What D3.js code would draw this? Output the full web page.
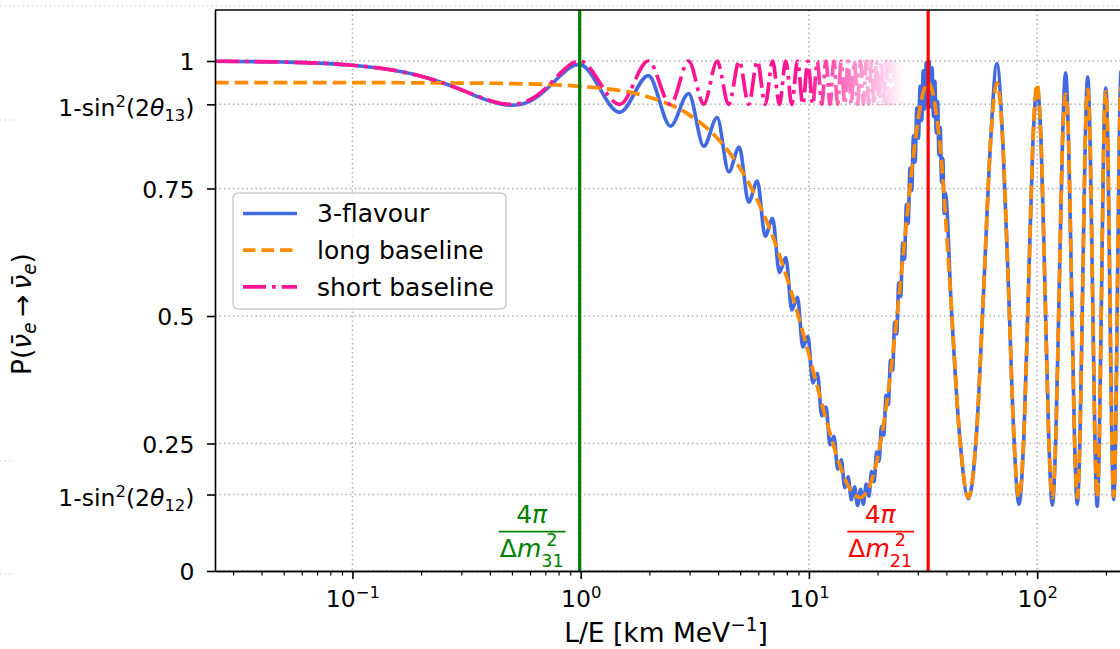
<!DOCTYPE html>
<html>
<head>
<meta charset="utf-8">
<script src="https://cdn.jsdelivr.net/npm/d3@7"></script>
<style>
  body { margin: 0; background: #fff; }
  svg text { font-family: "DejaVu Sans", sans-serif; }
</style>
</head>
<body>
<svg id="chart" width="1120" height="649"></svg>
<script>
// ---- data (L/E in km/MeV, survival probability) ----

// short baseline (pink dash-dot)
const sbX = [0.025, 0.05, 0.1, 0.15, 0.2, 0.25, 0.3, 0.35, 0.4, 0.45, 0.495, 0.55, 0.6, 0.65, 0.7, 0.75, 0.8, 0.85, 0.9, 0.95, 0.99,
  1.485, 1.98, 2.475, 2.97, 3.465, 3.96, 4.455, 4.95, 5.445, 5.94, 6.435, 6.93, 7.425, 7.92, 8.415, 8.91, 9.405, 9.9,
  10.395, 10.89, 11.385, 11.88, 12.375, 12.87, 13.365, 13.86, 14.355, 14.85, 15.345, 15.84, 16.335, 16.83, 17.325, 17.82,
  18.315, 18.81, 19.305, 19.8, 20.295, 20.79, 21.285, 21.78, 22.275, 22.77, 23.265, 23.76, 24.255, 24.75, 25.245, 25.74, 26.235, 26.73];
const sbP = [0.9995, 0.9979, 0.9917, 0.9822, 0.9701, 0.9568, 0.9435, 0.9318, 0.9225, 0.9167, 0.915, 0.9176, 0.9241, 0.934, 0.9461, 0.9594, 0.9726, 0.9842, 0.9932, 0.9986, 1,
  0.915, 1, 0.915, 1, 0.915, 1, 0.915, 1, 0.915, 1, 0.915, 1, 0.915, 1, 0.915, 1, 0.915, 1,
  0.915, 1, 0.915, 1, 0.915, 1, 0.915, 1, 0.915, 1, 0.915, 1, 0.915, 1, 0.915, 1,
  0.915, 1, 0.915, 1, 0.915, 1, 0.915, 1, 0.915, 1, 0.915, 1, 0.915, 1, 0.915, 1, 0.915, 1];

// long baseline (orange dashed)
const lbX = [0.025, 0.1, 0.3, 0.5, 0.7, 0.99,
  1.98, 2.97, 3.96, 4.95, 5.94, 6.93, 7.92, 8.91, 9.9, 10.89, 11.88, 12.87, 13.86, 14.85, 15.84, 16.83, 17.82, 18.81, 19.8,
  20.79, 21.78, 22.77, 23.76, 24.75, 25.74, 26.73, 27.72, 28.71, 29.7, 30.69, 31.68, 32.67, 33.3,
  37.46, 41.63, 45.79, 49.95, 54.11, 58.28, 62.44, 66.6, 70.76, 74.93, 79.09, 83.25, 87.41, 91.58, 95.74, 99.9,
  104.06, 108.23, 112.39, 116.55, 120.71, 124.88, 129.04, 133.2, 137.36, 141.53, 145.69, 149.85, 154.01, 158.18, 162.34, 166.5,
  170.66, 174.83, 178.99, 183.15, 187.31, 191.48, 195.64, 199.8, 203.96, 208.13, 212.29, 216.45, 220.61, 224.78, 228.94, 233.1,
  237.26, 241.43, 245.59, 249.75];
const lbP = [0.9575, 0.9575, 0.9568, 0.9557, 0.954, 0.9504,
  0.9294, 0.8953, 0.8491, 0.7926, 0.7277, 0.6566, 0.5818, 0.5059, 0.4316, 0.3615, 0.2979, 0.2431, 0.199, 0.1672, 0.1487, 0.1441, 0.1537, 0.1772, 0.2137,
  0.2619, 0.32, 0.3862, 0.4582, 0.5333, 0.6091, 0.6828, 0.752, 0.8143, 0.8671, 0.909, 0.9386, 0.9546, 0.9575,
  0.838, 0.551, 0.263, 0.144, 0.263, 0.551, 0.838, 0.957, 0.838, 0.551, 0.263, 0.144, 0.263, 0.551, 0.838, 0.955,
  0.838, 0.551, 0.263, 0.144, 0.263, 0.551, 0.838, 0.935, 0.838, 0.551, 0.263, 0.144, 0.263, 0.551, 0.838, 0.945,
  0.838, 0.551, 0.263, 0.144, 0.263, 0.551, 0.838, 0.94, 0.838, 0.551, 0.263, 0.146, 0.263, 0.551, 0.838, 0.95,
  0.838, 0.551, 0.263, 0.144];

// 3-flavour (blue solid)
const tfX = [0.025, 0.05, 0.1, 0.15, 0.2, 0.25, 0.3, 0.35, 0.4, 0.45, 0.495, 0.55, 0.6, 0.65, 0.7, 0.75, 0.8, 0.85, 0.9, 0.95, 0.99,
  1.485, 1.98, 2.475, 2.97, 3.465, 3.96, 4.455, 4.95, 5.445, 5.94, 6.435, 6.93, 7.425, 7.92, 8.415, 8.91, 9.405, 9.9,
  10.395, 10.89, 11.385, 11.88, 12.375, 12.87, 13.365, 13.86, 14.355, 14.85, 15.345, 15.84, 16.335, 16.83, 17.325, 17.82,
  18.315, 18.81, 19.305, 19.8, 20.295, 20.79, 21.285, 21.78, 22.275, 22.77, 23.265, 23.76, 24.255, 24.75, 25.245, 25.74,
  26.235, 26.73, 27.225, 27.72, 28.215, 28.71, 29.205, 29.7, 30.195, 30.69, 31.185, 31.68, 32.175, 32.67, 33.165, 33.66,
  34.155, 34.65, 35.145, 35.64, 36.135, 36.63, 37.125, 37.62, 38.115, 38.61, 39.105, 39.6,
  42, 45.79, 49.95, 54.11, 58.28, 62.44, 66.6, 70.76, 74.93, 79.09, 83.25, 87.41, 91.58, 95.74, 99.9,
  104.06, 108.23, 112.39, 116.55, 120.71, 124.88, 129.04, 133.2, 137.36, 141.53, 145.69, 149.85, 154.01, 158.18, 162.34, 166.5,
  170.66, 174.83, 178.99, 183.15, 187.31, 191.48, 195.64, 199.8, 203.96, 208.13, 212.29, 216.45, 220.61, 224.78, 228.94, 233.1,
  237.26, 241.43, 245.59, 249.75];
const tfP = [0.9995, 0.9979, 0.9917, 0.9822, 0.9701, 0.9568, 0.9435, 0.9309, 0.9213, 0.9152, 0.9132, 0.9154, 0.9215, 0.9309, 0.9426, 0.9553, 0.968, 0.9789, 0.9873, 0.9921, 0.9929,
  0.8995, 0.9713, 0.8724, 0.9364, 0.833, 0.8891, 0.7826, 0.8312, 0.7232, 0.7647, 0.6567, 0.6917, 0.5853, 0.6148, 0.5119, 0.5367, 0.4388, 0.46,
  0.3687, 0.3875, 0.304, 0.3214, 0.247, 0.2643, 0.1995, 0.2181, 0.1632, 0.1846, 0.1394, 0.1651, 0.1284, 0.1602, 0.1309, 0.1704,
  0.1465, 0.1952, 0.1751, 0.2335, 0.2155, 0.2839, 0.2666, 0.3444, 0.3266, 0.413, 0.3935, 0.4875, 0.465, 0.5649, 0.5386, 0.6429,
  0.6114, 0.7186, 0.6814, 0.7896, 0.7458, 0.8535, 0.8022, 0.9075, 0.8485, 0.9504, 0.8836, 0.9807, 0.9061, 0.997, 0.9149, 0.9991,
  0.9099, 0.9866, 0.8912, 0.9602, 0.8596, 0.9206, 0.8158, 0.8693, 0.7623, 0.8087, 0.701, 0.741,
  0.522, 0.263, 0.142, 0.263, 0.551, 0.838, 0.995, 0.838, 0.551, 0.263, 0.131, 0.263, 0.551, 0.838, 0.947,
  0.838, 0.551, 0.263, 0.129, 0.263, 0.551, 0.838, 0.977, 0.838, 0.551, 0.263, 0.131, 0.263, 0.551, 0.838, 0.969,
  0.838, 0.551, 0.263, 0.127, 0.263, 0.551, 0.838, 0.947, 0.838, 0.551, 0.263, 0.14, 0.263, 0.551, 0.838, 0.98,
  0.838, 0.551, 0.263, 0.13];

// ticks
const xTickValues = [0.1, 1, 10, 100];
const xTickExponents = ["\u22121", "0", "1", "2"];
const yTickValues = [0, 0.15, 0.25, 0.5, 0.75, 0.915, 1];
const yTickLabels = ["0", "1-sin^{2}(2θ_{12})", "0.25", "0.5", "0.75", "1-sin^{2}(2θ_{13})", "1"];

// vertical markers: 4π/Δm²31 and 4π/Δm²21
const markerLE = [0.99, 33.3];
const markerSub = ["31", "21"];

const legendNames = ["3-flavour", "long baseline", "short baseline"];

// ---- layout ----
const pL = 215, pR = 1128, pT = 10, pB = 571;
const FS = 23.5, FL = 26.5, FF = 25;

const svg = d3.select("#chart");
const x = d3.scaleLog().domain([0.025, 250]).range([pL, pR]);
const y = d3.scaleLinear().domain([0, 1.1]).range([pB, pT]);

// faint grid traces of the neighbouring panels at the picture edges
const faint = svg.append("g").attr("stroke", "#dcdcdc").attr("stroke-width", 1.3).attr("stroke-dasharray", "1.5,3");
faint.append("line").attr("x1", 0).attr("x2", 1120).attr("y1", 6).attr("y2", 6);
[120, 461, 574].forEach(v => faint.append("line").attr("x1", 0).attr("x2", 14).attr("y1", v).attr("y2", v));

const defs = svg.append("defs");
defs.append("clipPath").attr("id", "plotclip")
  .append("rect").attr("x", pL).attr("y", pT).attr("width", pR - pL).attr("height", pB - pT);

const fade = defs.append("linearGradient").attr("id", "pinkfade")
  .attr("gradientUnits", "userSpaceOnUse").attr("x1", 805).attr("x2", 905).attr("y1", 0).attr("y2", 0);
fade.append("stop").attr("offset", 0).attr("stop-color", "#ff1493").attr("stop-opacity", 1);
fade.append("stop").attr("offset", 1).attr("stop-color", "#ff1493").attr("stop-opacity", 0);

// small mathtext helper: ^{..} superscript, _{..} subscript, greek italic
function tex(sel, str, size) {
  const parts = str.split(/(\^\{[^}]*\}|_\{[^}]*\}|[θνπ]\u0304?)/).filter(s => s.length);
  let shift = 0;
  parts.forEach(p => {
    let s = p, target = 0, fs = size, it = false;
    if (p.startsWith("^{")) { s = p.slice(2, -1); target = -0.4 * size; fs = 0.7 * size; }
    else if (p.startsWith("_{")) { s = p.slice(2, -1); target = 0.2 * size; fs = 0.7 * size; it = /[a-z]/.test(s); }
    else if (/[θνπ]/.test(p)) it = true;
    const t = sel.append("tspan").text(s).attr("font-size", fs).attr("dy", target - shift);
    if (it) t.attr("font-style", "italic");
    shift = target;
  });
}

// grid
const grid = svg.append("g").attr("stroke", "#b0b0b0").attr("stroke-width", 1.5).attr("stroke-dasharray", "1.5,3");
xTickValues.forEach(v => grid.append("line").attr("x1", x(v)).attr("x2", x(v)).attr("y1", pT).attr("y2", pB));
yTickValues.forEach(v => grid.append("line").attr("x1", pL).attr("x2", pR).attr("y1", y(v)).attr("y2", y(v)));

// curves
const line = d3.line().x(d => x(d[0])).y(d => y(d[1])).curve(d3.curveMonotoneX);
const plot = svg.append("g").attr("clip-path", "url(#plotclip)");

plot.append("path").datum(d3.zip(tfX, tfP)).attr("d", line)
  .attr("fill", "none").attr("stroke", "#4169e1").attr("stroke-width", 3.6).attr("stroke-linejoin", "round");
plot.append("path").datum(d3.zip(lbX, lbP)).attr("d", line)
  .attr("fill", "none").attr("stroke", "#ff8c00").attr("stroke-width", 3.7).attr("stroke-dasharray", "13.7,5.9");
plot.append("path").datum(d3.zip(sbX, sbP)).attr("d", line)
  .attr("fill", "none").attr("stroke", "url(#pinkfade)").attr("stroke-width", 3.7).attr("stroke-dasharray", "24,6,3.7,6");

// vertical markers
const markerColor = ["#008000", "#ff0000"];
markerLE.forEach((v, i) => {
  plot.append("line").attr("x1", x(v)).attr("x2", x(v)).attr("y1", pT).attr("y2", pB)
    .attr("stroke", markerColor[i]).attr("stroke-width", 3.2);
});

// fraction labels 4π / Δm²ij, subscript and superscript stacked after the m
markerLE.forEach((v, i) => {
  const cx = x(v) - 48, col = markerColor[i];
  const g = svg.append("g").attr("fill", col);
  const num = g.append("text").attr("x", cx).attr("y", 523).attr("text-anchor", "middle");
  tex(num, "4π", FF);
  const den = g.append("text").attr("y", 557);
  den.append("tspan").attr("font-size", FF).text("Δ");
  den.append("tspan").attr("font-size", FF).attr("font-style", "italic").text("m");
  const w1 = den.node().getComputedTextLength();
  const subT = g.append("text").attr("y", 566.5).attr("font-size", FF * 0.7).text(markerSub[i]);
  const supT = g.append("text").attr("y", 545.5).attr("font-size", FF * 0.7).text("2");
  const ws = subT.node().getComputedTextLength();
  const wAll = w1 + ws;
  const x0 = cx - wAll / 2;
  den.attr("x", x0);
  subT.attr("x", x0 + w1);
  supT.attr("x", x0 + w1 + 5);
  g.append("line").attr("x1", x0 - 1).attr("x2", x0 + wAll + 2).attr("y1", 531.7).attr("y2", 531.7)
    .attr("stroke", col).attr("stroke-width", 1.7);
});

// axes
const minorTicks = x.ticks().filter(v => Math.abs(Math.log10(v) - Math.round(Math.log10(v))) > 1e-6);
const gxMinor = svg.append("g").attr("transform", `translate(0,${pB})`)
  .call(d3.axisBottom(x).tickValues(minorTicks).tickSize(4.5).tickSizeOuter(0).tickFormat(""));
const gx = svg.append("g").attr("transform", `translate(0,${pB})`)
  .call(d3.axisBottom(x).tickValues(xTickValues).tickSize(8).tickSizeOuter(0).tickFormat(""));
const gy = svg.append("g").attr("transform", `translate(${pL},0)`)
  .call(d3.axisLeft(y).tickValues(yTickValues).tickSize(8).tickSizeOuter(0).tickFormat(""));
[gxMinor, gx, gy].forEach(g => {
  g.selectAll("line").attr("stroke", "#000").attr("stroke-width", 1.6);
  g.select(".domain").attr("stroke", "#000").attr("stroke-width", 1.6);
});
gxMinor.selectAll("line").attr("stroke-width", 1.2);
svg.append("line").attr("x1", pL).attr("x2", pR).attr("y1", pT).attr("y2", pT)
  .attr("stroke", "#000").attr("stroke-width", 1.6);

gx.selectAll(".tick").each(function (d, i) {
  const t = d3.select(this).append("text").attr("y", 36).attr("text-anchor", "middle")
    .attr("fill", "#000").attr("font-size", FS);
  tex(t, "10^{" + xTickExponents[i] + "}", FS);
});

gy.selectAll(".tick").each(function (d, i) {
  const lab = yTickLabels[i];
  const t = d3.select(this).append("text").attr("x", -20.5).attr("y", lab.length > 5 ? 11.4 : 8.6)
    .attr("text-anchor", "end").attr("fill", "#000").attr("font-size", FS);
  tex(t, lab, FS);
});

// axis labels
const xl = svg.append("text").attr("x", 666).attr("y", 642).attr("text-anchor", "middle").attr("font-size", FL);
tex(xl, "L/E [km MeV^{\u22121}]", FL);
const yl = svg.append("text").attr("transform", "translate(31,314) rotate(-90)").attr("text-anchor", "middle").attr("font-size", FL);
tex(yl, "P(ν\u0304_{e}\u2009→\u2009ν\u0304_{e})", FL);

// legend
const lg = svg.append("g").attr("transform", "translate(233,193)");
lg.append("rect").attr("width", 273).attr("height", 116).attr("rx", 5)
  .attr("fill", "#fff").attr("fill-opacity", 0.8).attr("stroke", "#cccccc").attr("stroke-width", 1.5);
const lgStroke = ["#4169e1", "#ff8c00", "#ff1493"];
const lgDash = [null, "12.5,6", "23,6,3.7,6"];
legendNames.forEach((name, i) => {
  const yy = 20.5 + i * 36.7;
  lg.append("line").attr("x1", 10).attr("x2", 64).attr("y1", yy).attr("y2", yy)
    .attr("stroke", lgStroke[i]).attr("stroke-width", 3.7).attr("stroke-dasharray", lgDash[i]);
  lg.append("text").attr("x", 84).attr("y", yy + 8.6).attr("font-size", 25).text(name);
});
</script>
</body>
</html>
